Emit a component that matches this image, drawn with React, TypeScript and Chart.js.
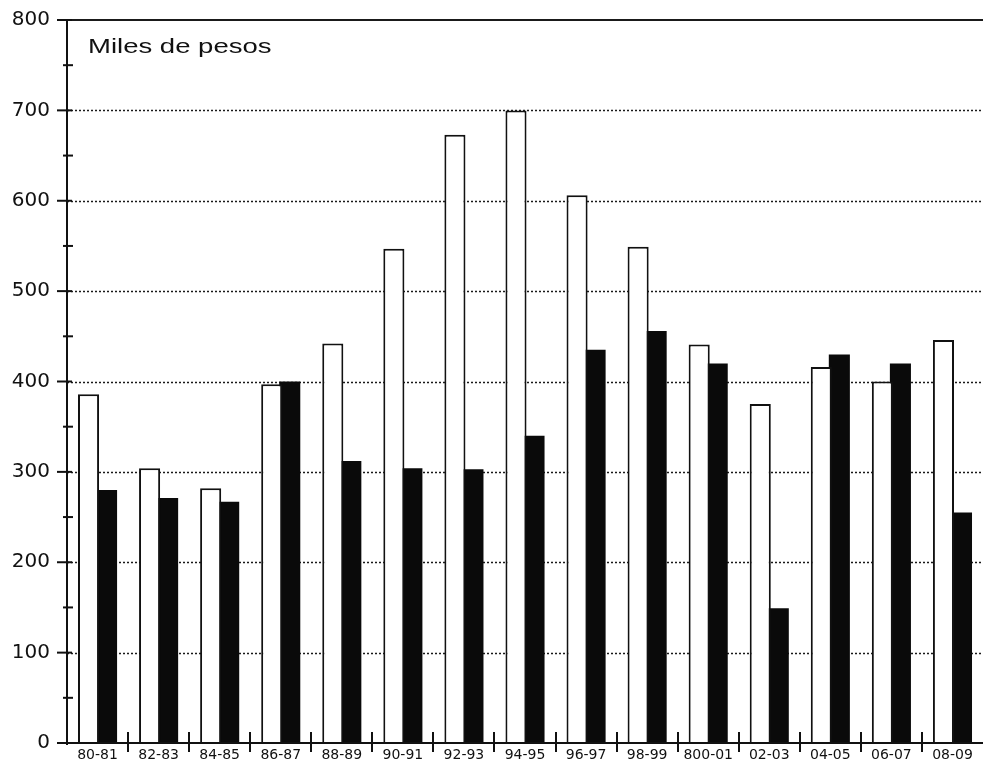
import React, { useEffect, useRef } from "react";
import { Chart, registerables } from "chart.js";

Chart.register(...registerables);

const categories = ["80-81", "82-83", "84-85", "86-87", "88-89", "90-91", "92-93", "94-95", "96-97", "98-99", "800-01", "02-03", "04-05", "06-07", "08-09"];
const whiteSeries = [386, 304, 282, 397, 442, 547, 673, 700, 606, 549, 441, 375, 416, 400, 446];
const blackSeries = [280, 271, 267, 400, 312, 304, 303, 340, 435, 456, 420, 149, 430, 420, 255];
const yTicks = [0, 100, 200, 300, 400, 500, 600, 700, 800];
const unitLabel = "Miles de pesos";

const framePlugin = {
  id: "frame",
  beforeDatasetsDraw(chart: any) {
    const { ctx, chartArea, scales } = chart;
    const y = scales.y;
    ctx.save();
    ctx.strokeStyle = "#1a1a1a";
    ctx.lineWidth = 1.5;
    ctx.setLineDash([2, 2]);
    for (const v of yTicks) {
      if (v === 0 || v === 800) continue;
      const py = Math.round(y.getPixelForValue(v)) + 0.5;
      ctx.beginPath();
      ctx.moveTo(chartArea.left, py);
      ctx.lineTo(chartArea.right, py);
      ctx.stroke();
    }
    ctx.setLineDash([]);
    ctx.lineWidth = 2;
    const top = y.getPixelForValue(800);
    ctx.beginPath();
    ctx.moveTo(chartArea.left - 10, top);
    ctx.lineTo(chartArea.right, top);
    ctx.stroke();
    // title text, horizontally stretched like the reference
    ctx.fillStyle = "#111";
    ctx.font = "21px 'Liberation Sans', Arial, sans-serif";
    ctx.textBaseline = "alphabetic";
    ctx.textAlign = "left";
    ctx.translate(88, 53);
    ctx.scale(1.31, 1);
    ctx.fillText(unitLabel, 0, 0);
    ctx.restore();
  },
  afterDatasetsDraw(chart: any) {
    const { ctx, chartArea, scales } = chart;
    const y = scales.y;
    ctx.save();
    ctx.strokeStyle = "#111";
    ctx.lineWidth = 2;
    const bottom = y.getPixelForValue(0);
    const top = y.getPixelForValue(800);
    // y axis
    ctx.beginPath();
    ctx.moveTo(chartArea.left, top);
    ctx.lineTo(chartArea.left, bottom + 2);
    ctx.stroke();
    // x axis
    ctx.beginPath();
    ctx.moveTo(chartArea.left - 10, bottom);
    ctx.lineTo(chartArea.right, bottom);
    ctx.stroke();
    // y major ticks
    for (const v of yTicks) {
      const py = y.getPixelForValue(v);
      ctx.beginPath();
      ctx.moveTo(chartArea.left - 10, py);
      ctx.lineTo(chartArea.left + 5, py);
      ctx.stroke();
    }
    // y minor ticks
    for (let i = 0; i < yTicks.length - 1; i++) {
      const v = (yTicks[i] + yTicks[i + 1]) / 2;
      const py = y.getPixelForValue(v);
      ctx.beginPath();
      ctx.moveTo(chartArea.left - 4, py);
      ctx.lineTo(chartArea.left + 6, py);
      ctx.stroke();
    }
    // x category boundary ticks
    const n = categories.length;
    const w = (chartArea.right - chartArea.left) / n;
    for (let i = 1; i < n; i++) {
      const px = Math.round(chartArea.left + w * i);
      ctx.beginPath();
      ctx.moveTo(px, bottom - 11);
      ctx.lineTo(px, bottom + 9);
      ctx.stroke();
    }
    ctx.restore();
  },
};

export default function App() {
  const ref = useRef<HTMLCanvasElement>(null);
  useEffect(() => {
    document.body.style.margin = "0";
    const canvas = ref.current!;
    const chart = new Chart(canvas, {
      type: "bar",
      data: {
        labels: categories,
        datasets: [
          {
            data: whiteSeries,
            backgroundColor: "#ffffff",
            borderColor: "#111111",
            borderWidth: 2,
            borderSkipped: "bottom",
            categoryPercentage: 0.59,
            barPercentage: 1.17,
          },
          {
            data: blackSeries,
            backgroundColor: "#0a0a0a",
            borderColor: "#0a0a0a",
            borderWidth: 0,
            categoryPercentage: 0.59,
            barPercentage: 1.17,
          },
        ],
      },
      options: {
        responsive: false,
        animation: false,
        layout: { padding: { top: 20, right: 0, left: 0, bottom: 0 } },
        plugins: {
          legend: { display: false },
          tooltip: { enabled: false },
        },
        scales: {
          x: {
            type: "category",
            offset: true,
            grid: { display: false, drawTicks: false },
            border: { display: false },
            ticks: {
              color: "#111",
              font: { family: "'DejaVu Sans', sans-serif", size: 14 },
              padding: 4,
              maxRotation: 0,
              autoSkip: false,
            },
            afterFit: (s: any) => {
              s.height = 16;
              s.paddingLeft = 0;
              s.paddingRight = 0;
              s.paddingTop = 0;
              s.paddingBottom = 0;
            },
          },
          y: {
            min: 0,
            max: 800,
            afterBuildTicks: (s: any) => {
              s.ticks = yTicks.map((v) => ({ value: v }));
            },
            grid: { display: false, drawTicks: false },
            border: { display: false },
            ticks: {
              color: "#111",
              font: { family: "'DejaVu Sans', sans-serif", size: 20 },
              padding: 17,
            },
            afterFit: (s: any) => {
              s.width = 67;
              s.paddingLeft = 0;
              s.paddingRight = 0;
              s.paddingTop = 0;
              s.paddingBottom = 0;
            },
          },
        },
      },
      plugins: [framePlugin],
    });
    return () => chart.destroy();
  }, []);
  return (
    <div style={{ width: 983, height: 759, background: "#fff" }}>
      <canvas ref={ref} width={983} height={759} style={{ display: "block" }} />
    </div>
  );
}
